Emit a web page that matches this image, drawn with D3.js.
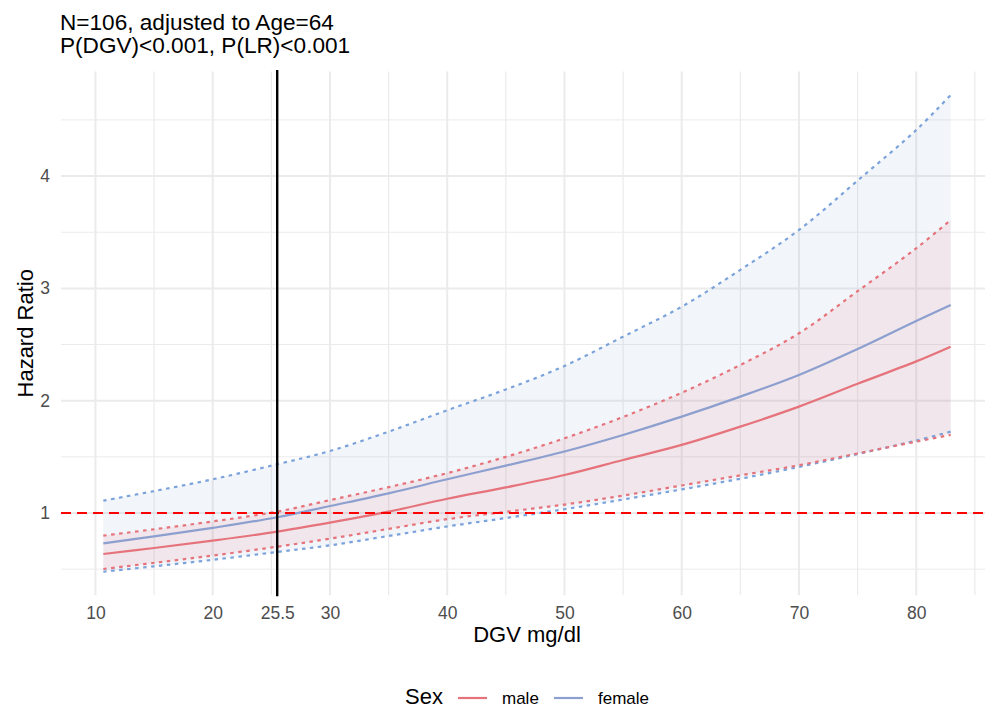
<!DOCTYPE html>
<html>
<head>
<meta charset="utf-8">
<script src="https://cdn.jsdelivr.net/npm/d3@7"></script>
<style>
  html, body { margin: 0; padding: 0; background: #fff; }
  svg { display: block; font-family: "Liberation Sans", Arial, sans-serif; }
</style>
</head>
<body>
<svg id="chart" width="985" height="708"></svg>
<script>
// ---- data ----
const dgv        = [10.67, 15, 20, 25.5, 30, 35, 40, 45, 50, 55, 60, 65, 70, 75, 80, 82.94];
const maleHR     = [0.635, 0.688, 0.754, 0.834, 0.914, 1.012, 1.127, 1.228, 1.338, 1.472, 1.606, 1.769, 1.947, 2.150, 2.350, 2.481];
const maleLower  = [0.501, 0.556, 0.621, 0.700, 0.771, 0.858, 0.945, 1.010, 1.075, 1.155, 1.245, 1.335, 1.425, 1.530, 1.635, 1.695];
const maleUpper  = [0.798, 0.855, 0.925, 1.012, 1.115, 1.230, 1.355, 1.500, 1.665, 1.855, 2.071, 2.318, 2.600, 2.975, 3.357, 3.609];
const femaleHR    = [0.730, 0.792, 0.868, 0.962, 1.062, 1.175, 1.300, 1.422, 1.548, 1.695, 1.858, 2.036, 2.229, 2.460, 2.710, 2.852];
const femaleLower = [0.477, 0.525, 0.583, 0.653, 0.712, 0.795, 0.880, 0.955, 1.033, 1.120, 1.210, 1.305, 1.410, 1.525, 1.645, 1.724];
const femaleUpper = [1.110, 1.195, 1.300, 1.434, 1.552, 1.724, 1.915, 2.100, 2.309, 2.570, 2.837, 3.165, 3.520, 3.960, 4.410, 4.722];

const xTicks = [10, 20, 25.5, 30, 40, 50, 60, 70, 80];
const xMinor = [15, 25, 35, 45, 55, 65, 75, 85];
const yTicks = [1, 2, 3, 4];
const yMinor = [0.5, 1.5, 2.5, 3.5, 4.5];
const refDGV = 25.5;
const refHR = 1;

const titleLines = ["N=106, adjusted to Age=64", "P(DGV)<0.001, P(LR)<0.001"];
const sexLevels = ["male", "female"];

// ---- layout ----
const svg = d3.select("#chart");
const panel = { left: 61, right: 993, top: 71.4, bottom: 595.2 };
const x = d3.scaleLinear().domain([7.06, 86.55]).range([panel.left, panel.right]);
const y = d3.scaleLinear().domain([0.268, 4.932]).range([panel.bottom, panel.top]);

const colors = {
  male:   { line: "#E6737B", dot: "#E6737B", fill: "#E6737B" },
  female: { line: "#8C9FCF", dot: "#7BA2DA", fill: "#7BA2DA" }
};

const grid = svg.append("g");
grid.selectAll(".hmin").data(yMinor).join("line")
  .attr("x1", panel.left).attr("x2", panel.right)
  .attr("y1", d => y(d)).attr("y2", d => y(d))
  .attr("stroke", "#EBEBEB").attr("stroke-width", 1);
grid.selectAll(".vmin").data(xMinor).join("line")
  .attr("y1", panel.top).attr("y2", panel.bottom)
  .attr("x1", d => x(d)).attr("x2", d => x(d))
  .attr("stroke", "#EBEBEB").attr("stroke-width", 1.2);
grid.selectAll(".hmaj").data(yTicks).join("line")
  .attr("x1", panel.left).attr("x2", panel.right)
  .attr("y1", d => y(d)).attr("y2", d => y(d))
  .attr("stroke", "#EBEBEB").attr("stroke-width", 2);
grid.selectAll(".vmaj").data(xTicks).join("line")
  .attr("y1", panel.top).attr("y2", panel.bottom)
  .attr("x1", d => x(d)).attr("x2", d => x(d))
  .attr("stroke", "#EBEBEB").attr("stroke-width", 2);

// ---- series ----
const series = [
  { key: "female", hr: femaleHR, lo: femaleLower, up: femaleUpper },
  { key: "male",   hr: maleHR,   lo: maleLower,   up: maleUpper }
];
const curve = d3.curveCatmullRom.alpha(0.5);
const area = d3.area().curve(curve)
  .x(d => x(d.x)).y0(d => y(d.lo)).y1(d => y(d.up));
const line = d3.line().curve(curve).x(d => x(d.x)).y(d => y(d.v));

series.forEach(s => {
  const pts = dgv.map((v, i) => ({ x: v, lo: s.lo[i], up: s.up[i] }));
  svg.append("path").datum(pts).attr("d", area)
    .attr("fill", colors[s.key].fill)
    .attr("fill-opacity", s.key === "female" ? 0.1 : 0.12);
});

series.forEach(s => {
  [s.lo, s.up].forEach(arr => {
    svg.append("path").datum(dgv.map((v, i) => ({ x: v, v: arr[i] })))
      .attr("d", line).attr("fill", "none")
      .attr("stroke", colors[s.key].dot).attr("stroke-width", 2.2)
      .attr("stroke-dasharray", "3.5,4.5");
  });
});
series.slice().reverse().forEach(s => {
  svg.append("path").datum(dgv.map((v, i) => ({ x: v, v: s.hr[i] })))
    .attr("d", line).attr("fill", "none")
    .attr("stroke", colors[s.key].line).attr("stroke-width", 2.2);
});

// reference lines
svg.append("line")
  .attr("x1", panel.left).attr("x2", panel.right)
  .attr("y1", y(refHR)).attr("y2", y(refHR))
  .attr("stroke", "#FF0000").attr("stroke-width", 2.2)
  .attr("stroke-dasharray", "10,6");
svg.append("line")
  .attr("x1", x(refDGV)).attr("x2", x(refDGV))
  .attr("y1", panel.top - 1.5).attr("y2", panel.bottom + 1)
  .attr("stroke", "#000").attr("stroke-width", 2.4);

// ---- axes ----
const xAxis = svg.append("g").attr("transform", `translate(0,${panel.bottom})`)
  .call(d3.axisBottom(x).tickValues(xTicks).tickFormat(d => String(d)).tickSize(0).tickPadding(11));
const yAxis = svg.append("g").attr("transform", `translate(${panel.left},0)`)
  .call(d3.axisLeft(y).tickValues(yTicks).tickFormat(d => String(d)).tickSize(0).tickPadding(11));
[xAxis, yAxis].forEach(g => {
  g.select(".domain").remove();
  g.selectAll("text").attr("fill", "#4D4D4D").style("font-size", "17.5px")
    .style("font-family", '"Liberation Sans", Arial, sans-serif');
});

// ---- titles ----
svg.selectAll(".title").data(titleLines).join("text")
  .attr("x", 60).attr("y", (d, i) => 30 + i * 23.3)
  .attr("font-size", 22.6).attr("fill", "#000").text(d => d);

svg.append("text").attr("x", (panel.left + panel.right) / 2).attr("y", 642)
  .attr("text-anchor", "middle").attr("font-size", 22).attr("fill", "#000")
  .text("DGV mg/dl");
svg.append("text").attr("transform", `translate(33,${(panel.top + panel.bottom) / 2}) rotate(-90)`)
  .attr("text-anchor", "middle").attr("font-size", 22).attr("fill", "#000")
  .text("Hazard Ratio");

// ---- legend ----
const leg = svg.append("g");
leg.append("text").attr("x", 405).attr("y", 704).attr("font-size", 22).attr("fill", "#000").text("Sex");
const legX = [458, 554];
sexLevels.forEach((k, i) => {
  leg.append("line").attr("x1", legX[i]).attr("x2", legX[i] + 29)
    .attr("y1", 698).attr("y2", 698)
    .attr("stroke", colors[k].line).attr("stroke-width", 2.2);
  leg.append("text").attr("x", legX[i] + 44).attr("y", 704)
    .attr("font-size", 17).attr("fill", "#000").text(k);
});
</script>
</body>
</html>
